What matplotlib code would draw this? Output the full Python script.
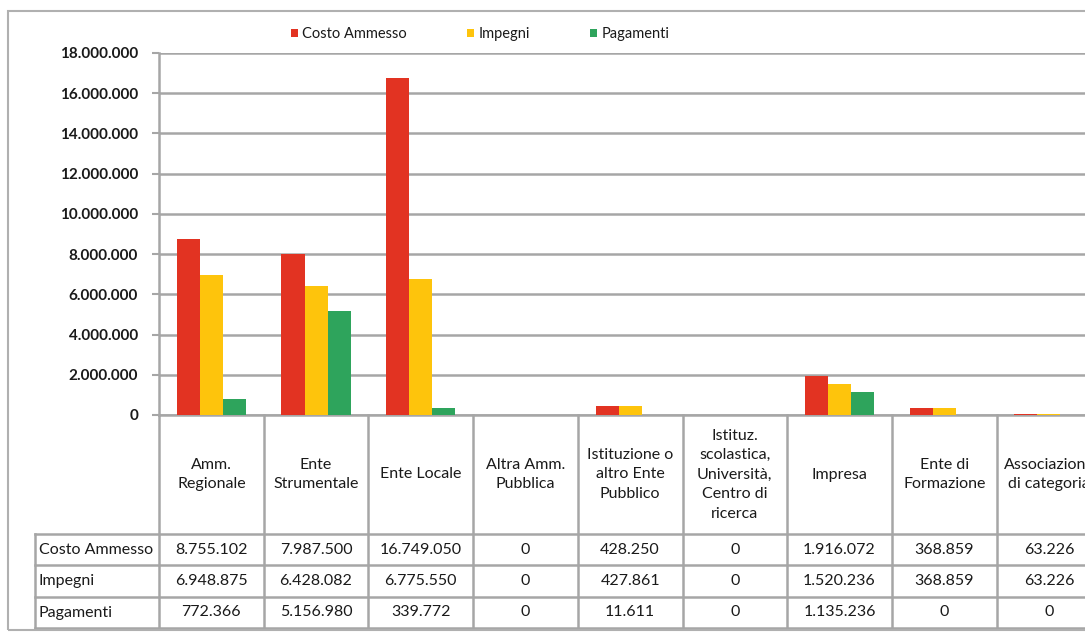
import matplotlib
matplotlib.use("Agg")
import matplotlib.pyplot as plt
from matplotlib.patches import Rectangle
from matplotlib.lines import Line2D

plt.rcParams['font.family'] = ['Lato', 'DejaVu Sans']

categories = ["Amm.\nRegionale", "Ente\nStrumentale", "Ente Locale",
              "Altra Amm.\nPubblica", "Istituzione o\naltro Ente\nPubblico",
              "Istituz.\nscolastica,\nUniversità,\nCentro di\nricerca",
              "Impresa", "Ente di\nFormazione", "Associazione\ndi categoria"]
series_names = ["Costo Ammesso", "Impegni", "Pagamenti"]
costo_ammesso = [8755102, 7987500, 16749050, 0, 428250, 0, 1916072, 368859, 63226]
impegni = [6948875, 6428082, 6775550, 0, 427861, 0, 1520236, 368859, 63226]
pagamenti = [772366, 5156980, 339772, 0, 11611, 0, 1135236, 0, 0]
y_ticks = [0, 2000000, 4000000, 6000000, 8000000, 10000000,
           12000000, 14000000, 16000000, 18000000]

colors = ["#E23322", "#FEC40C", "#2EA45C"]
grid_col = "#a6a6a6"
txt_col = "#1a1a1a"


def fmt(v):
    return f"{v:,.0f}".replace(",", ".")


W, H = 1085, 634
fig = plt.figure(figsize=(W / 100, H / 100), dpi=100)

# outer frame, cut off at the right like the source
fig.patches.append(Rectangle((8 / W, 1 - 630 / H), 1.2, (630 - 11) / H,
                             transform=fig.transFigure, fill=False,
                             edgecolor="#b0b0b0", linewidth=1.5))

cat_w = 104.7
n = len(categories)
ax = fig.add_axes([159 / W, 1 - 415 / H, n * cat_w / W, 362 / H])

series = [costo_ammesso, impegni, pagamenti]
bw = 0.22
xs = list(range(n))
handles = []
for i, (vals, c) in enumerate(zip(series, colors)):
    h = ax.bar([x + (i - 1) * bw for x in xs], vals, width=bw, color=c,
               zorder=3, label=series_names[i])
    handles.append(h)

ax.set_xlim(-0.5, n - 0.5)
ax.set_ylim(0, 18000000)
ax.set_yticks(y_ticks)
ax.set_yticklabels([fmt(v) for v in y_ticks], fontsize=11, fontweight="bold",
                   color=txt_col)
ax.set_xticks([])
ax.yaxis.grid(True, color=grid_col, linewidth=1.8, zorder=0)
ax.tick_params(axis="y", length=5, width=1.5, color=grid_col, pad=10)
for s in ["top", "right"]:
    ax.spines[s].set_visible(False)
for s in ["left", "bottom"]:
    ax.spines[s].set_color(grid_col)
    ax.spines[s].set_linewidth(1.8)

# data table below the axis
tr = ax.get_xaxis_transform()
px = 362.0
y_head = (415 - 534) / px
row_edges = [(415 - y) / px for y in (534, 565, 597, 628)]
x_left = -0.5 - (159 - 35) / cat_w
x_right = n - 0.5 + 1
fs = 11.5

for b in range(n + 1):
    ax.add_line(Line2D([b - 0.5, b - 0.5], [0, row_edges[-1]], transform=tr,
                       color=grid_col, linewidth=1.8, clip_on=False))
ax.add_line(Line2D([x_left, x_left], [row_edges[0], row_edges[-1]], transform=tr,
                   color=grid_col, linewidth=1.8, clip_on=False))
for ye in row_edges:
    ax.add_line(Line2D([x_left, x_right], [ye, ye], transform=tr,
                       color=grid_col, linewidth=1.8, clip_on=False))

for i, lab in enumerate(categories):
    ax.text(i, y_head / 2, lab, transform=tr, ha="center", va="center",
            fontsize=fs, linespacing=1.5, color=txt_col, clip_on=False)

for r, (name, vals) in enumerate(zip(series_names, series)):
    yc = (row_edges[r] + row_edges[r + 1]) / 2
    ax.text(x_left + 0.035, yc, name, transform=tr, ha="left", va="center",
            fontsize=fs, color=txt_col)
    for i, v in enumerate(vals):
        ax.text(i, yc, fmt(v), transform=tr, ha="center", va="center",
                fontsize=fs, color=txt_col)

fig.legend(handles=handles, loc="center", bbox_to_anchor=(480 / W, 1 - 34 / H),
           ncol=3, frameon=False, fontsize=10.5, handlelength=0.5,
           handleheight=0.5, handletextpad=0.3, columnspacing=4.1,
           labelcolor=txt_col)

fig.savefig("out.png", dpi=100)
